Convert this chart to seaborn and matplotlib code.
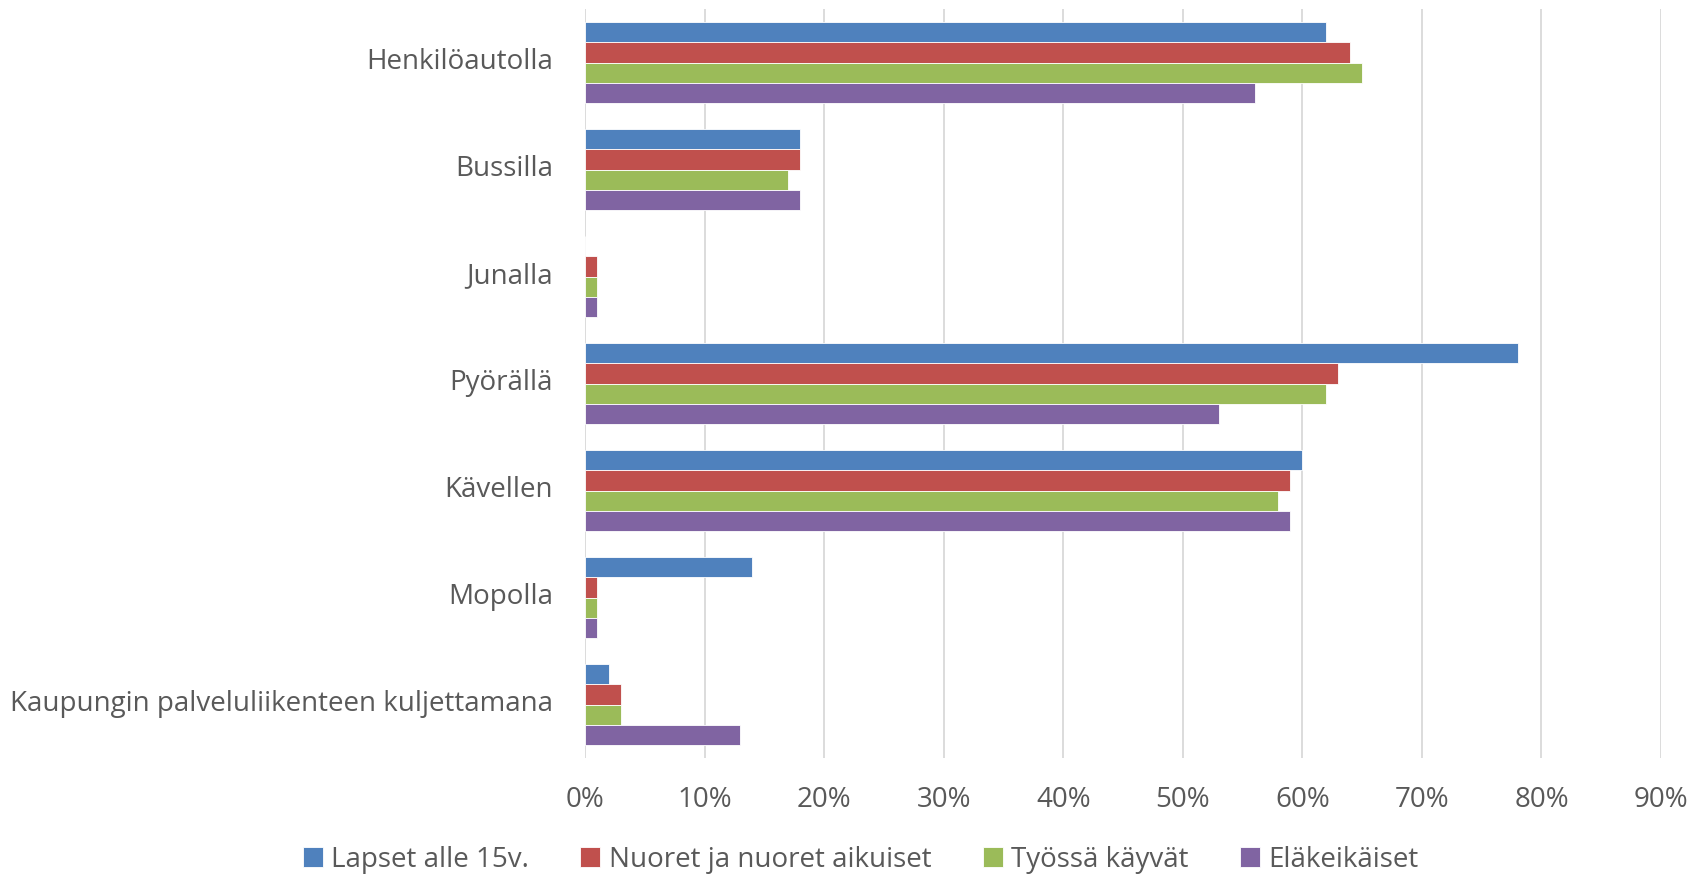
import pandas as pd
import numpy as np
import matplotlib.pyplot as plt
import matplotlib.transforms as mtrans
import seaborn as sns
from matplotlib.ticker import PercentFormatter

# Data (share of respondents, %)
categories = ['Henkilöautolla', 'Bussilla', 'Junalla', 'Pyörällä', 'Kävellen',
              'Mopolla', 'Kaupungin palveluliikenteen kuljettamana']
groups = ['Lapset alle 15v.', 'Nuoret ja nuoret aikuiset', 'Työssä käyvät', 'Eläkeikäiset']
lapset = [62, 18, 0, 78, 60, 14, 2]
nuoret = [64, 18, 1, 63, 59, 1, 3]
tyossa = [65, 17, 1, 62, 58, 1, 3]
elake = [56, 18, 1, 53, 59, 1, 13]

colors = ['#4F81BD', '#C0504D', '#9BBB59', '#8064A2']

# Long format for seaborn
df = pd.DataFrame({
    'Kulkutapa': categories * 4,
    'Ryhmä': np.repeat(groups, len(categories)),
    'Osuus': np.array(lapset + nuoret + tyossa + elake) / 100,
})

sns.set_style('white')
plt.rcParams['font.family'] = ['Open Sans', 'DejaVu Sans']
text_color = '#595959'

fig = plt.figure(figsize=(17.05, 8.76), dpi=100)
ax = fig.add_axes([0.3431, 0.1347, 0.9742 - 0.3431, 0.9897 - 0.1347])

sns.barplot(data=df, x='Osuus', y='Kulkutapa', hue='Ryhmä', order=categories,
            hue_order=groups, palette=colors, orient='h', width=0.75,
            saturation=1, edgecolor='white', linewidth=0.6, ax=ax)

ax.set_xlim(0, 0.9)
ax.set_ylim(6.5, -0.5)
ax.set_xticks(np.arange(0, 0.91, 0.1))
ax.xaxis.set_major_formatter(PercentFormatter(1.0, decimals=0))
ax.grid(axis='x', color='#D9D9D9', linewidth=1.3)
ax.set_axisbelow(True)
for s in ax.spines.values():
    s.set_visible(False)
ax.set_xlabel('')
ax.set_ylabel('')
ax.tick_params(axis='both', length=0, labelsize=20, colors=text_color)
ax.tick_params(axis='x', pad=20)
ax.tick_params(axis='y', pad=23)

# nudge category labels up a little
shift = mtrans.ScaledTranslation(0, 4 / 100, fig.dpi_scale_trans)
for lab in ax.get_yticklabels():
    lab.set_transform(lab.get_transform() + shift)

ax.legend(loc='center', bbox_to_anchor=(0.256, -0.136),
          ncol=4, frameon=False, fontsize=20, handlelength=0.72, handleheight=0.72,
          handletextpad=0.3, columnspacing=1.85, labelcolor=text_color)

fig.savefig('out.png', dpi=100)
